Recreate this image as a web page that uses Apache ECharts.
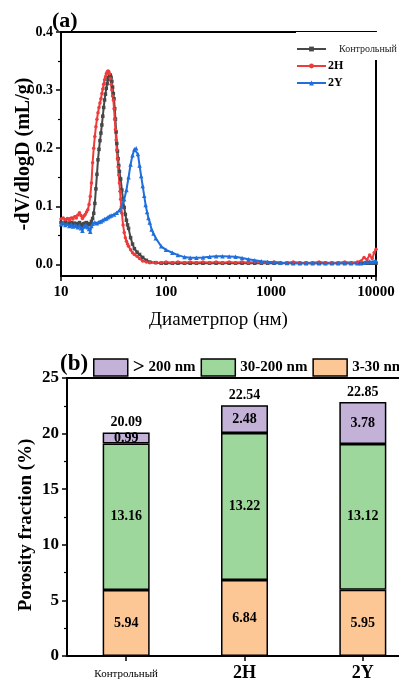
<!DOCTYPE html>
<html><head><meta charset="utf-8">
<script src="https://cdn.jsdelivr.net/npm/echarts@6/dist/echarts.min.js"></script>
<style>html,body{margin:0;padding:0;background:#fff}#c{width:399px;height:682px}</style>
</head><body><div id="c"></div>
<script>
const FONT = '"Liberation Serif","Times New Roman",serif';

// ---------- Panel (a): pore size distribution ----------
const dTail = [80,90,100,115,130,150,170,195,225,260,300,345,400,460,530,610,700,810,930,1070,1230,1420,1630,1880,2160,2490,2870,3300,3800,4370,5030,5790,6660,7200,7700,8200,8700,9200,9600,10000];

const dCtrl = [10,10.5,11,11.5,12,12.5,13,13.5,14,14.5,15,15.5,16,16.5,17,17.5,18,18.5,19,19.5,20,20.5,21,21.5,22,22.5,23,23.5,24,24.5,25,25.5,26,26.5,27,27.5,28,28.5,29,29.5,30,30.5,31,31.5,32,32.5,33,33.5,34,34.5,35,35.5,36,37,38,39,40,41,42,43,44,46,48,50,53,56,60,65,70].concat(dTail);
const vCtrl = [0.072,0.070,0.073,0.071,0.069,0.072,0.070,0.071,0.068,0.070,0.072,0.069,0.066,0.070,0.071,0.072,0.070,0.068,0.070,0.074,0.079,0.088,0.105,0.130,0.155,0.180,0.198,0.213,0.226,0.240,0.255,0.270,0.283,0.293,0.303,0.311,0.318,0.322,0.326,0.326,0.322,0.315,0.305,0.294,0.285,0.268,0.250,0.228,0.208,0.195,0.182,0.170,0.160,0.147,0.128,0.112,0.098,0.086,0.076,0.068,0.062,0.046,0.035,0.027,0.021,0.017,0.012,0.007,0.004,
  0.003,0.002,0.002,0.002,0.002,0.002,0.002,0.002,0.002,0.002,0.002,0.002,0.002,0.002,0.002,0.002,0.002,0.002,0.002,0.002,0.002,0.002,0.002,0.002,0.002,0.002,0.002,0.002,0.002,0.002,0.002,0.002,0.002,0.002,0.002,0.002,0.002,0.002,0.002,0.002];

const dH = [10,10.5,11,11.5,12,12.5,13,13.5,14,14.5,15,15.5,16,16.5,17,17.5,18,18.5,19,19.5,20,20.5,21,21.5,22,22.5,23,23.5,24,24.5,25,25.5,26,26.5,27,27.5,28,28.5,29,29.5,30,30.5,31,31.5,32,32.5,33,33.5,34,34.5,35,35.5,36,36.5,37,37.5,38,39,40,41,42,43,44,46,48,50,53,56,60,65,70].concat(dTail);
const vH = [0.078,0.080,0.077,0.079,0.076,0.080,0.078,0.082,0.080,0.085,0.089,0.084,0.079,0.083,0.086,0.090,0.094,0.103,0.117,0.140,0.175,0.200,0.220,0.237,0.250,0.261,0.270,0.278,0.285,0.294,0.302,0.310,0.318,0.323,0.328,0.331,0.333,0.332,0.328,0.320,0.310,0.300,0.290,0.283,0.268,0.250,0.232,0.214,0.197,0.182,0.168,0.154,0.140,0.126,0.112,0.099,0.088,0.068,0.055,0.046,0.040,0.035,0.031,0.025,0.020,0.017,0.014,0.010,0.006,0.004,0.003,
  0.003,0.003,0.004,0.003,0.004,0.003,0.004,0.003,0.004,0.003,0.004,0.003,0.004,0.003,0.004,0.003,0.004,0.003,0.003,0.004,0.003,0.003,0.004,0.003,0.003,0.003,0.004,0.003,0.003,0.003,0.004,0.003,0.004,0.006,0.012,0.008,0.016,0.010,0.020,0.026];

const dY = [10,10.5,11,11.5,12,12.5,13,13.5,14,14.5,15,15.5,16,16.5,17,17.5,18,18.5,19,19.5,20,21,22,23,24,25,26,27,28,29,30,32,34,36,38,40,42,44,46,48,50,52,54,56,58,60,62,64,66,68,70,73,76].concat(dTail);
const vY = [0.069,0.072,0.068,0.070,0.066,0.069,0.065,0.068,0.066,0.064,0.067,0.062,0.058,0.065,0.068,0.066,0.064,0.061,0.056,0.066,0.070,0.072,0.071,0.073,0.074,0.076,0.078,0.079,0.081,0.083,0.084,0.086,0.089,0.093,0.100,0.112,0.128,0.150,0.172,0.188,0.198,0.200,0.190,0.170,0.152,0.135,0.118,0.102,0.090,0.080,0.072,0.060,0.053,
  0.045,0.031,0.025,0.020,0.016,0.0125,0.0115,0.0115,0.012,0.013,0.014,0.014,0.0135,0.013,0.011,0.009,0.007,0.0055,0.0045,0.0035,0.003,0.0025,0.002,0.002,0.002,0.002,0.002,0.002,0.002,0.002,0.002,0.002,0.002,0.002,0.003,0.004,0.005,0.004,0.005,0.006];

const xTicksA = [10,100,1000,10000];
const xMinorA = [20,30,40,50,60,70,80,90,200,300,400,500,600,700,800,900,2000,3000,4000,5000,6000,7000,8000,9000];
const yTicksA = [0,0.1,0.2,0.3,0.4];
const yMinorA = [0.05,0.15,0.25,0.35];

// ---------- Panel (b): porosity fractions ----------
const categories = ['Контрольный','2H','2Y'];
const small = [5.94,6.84,5.95];    // 3-30 nm
const mid = [13.16,13.22,13.12];   // 30-200 nm
const large = [0.99,2.48,3.78];    // > 200 nm
const totals = [20.09,22.54,22.85];
const seriesNamesB = ['> 200 nm','30-200 nm','3-30 nm'];

function pairs(d, v){ return d.map((x,i)=>[x, v[i]]); }

const blk = '#000';
const lineCommon = { type:'line', xAxisIndex:0, yAxisIndex:0, showSymbol:true, clip:true };
const labB = { show:true, position:'inside', fontFamily:FONT, fontWeight:'bold', fontSize:14, color:'#000', formatter:p=>p.value.toFixed(2) };
const barCommon = { type:'bar', xAxisIndex:3, yAxisIndex:3, stack:'tot', barWidth:47 };

const option = {
  animation:false,
  backgroundColor:'#fff',
  title:[
    {text:'(a)', left:52, top:10, padding:0, textStyle:{fontFamily:FONT, fontWeight:'bold', fontSize:22, color:'#000'}},
    {text:'(b)', left:60, top:353, padding:0, textStyle:{fontFamily:FONT, fontWeight:'bold', fontSize:23, color:'#000'}}
  ],
  legend:[
    {data:['Контрольный'], left:296, top:32, orient:'vertical', padding:[12,4,6,0], backgroundColor:'#fff', itemWidth:29, itemHeight:6, selectedMode:false,
     textStyle:{fontFamily:FONT, fontSize:10, color:'#222', padding:[0,0,0,8]}},
    {data:['2H'], left:296, top:60, orient:'vertical', padding:0, itemWidth:29, itemHeight:6, selectedMode:false,
     textStyle:{fontFamily:FONT, fontSize:12, fontWeight:'bold', color:'#000', padding:[0,0,0,-3]}},
    {data:['2Y'], left:296, top:77, orient:'vertical', padding:0, itemWidth:29, itemHeight:6, selectedMode:false,
     textStyle:{fontFamily:FONT, fontSize:12, fontWeight:'bold', color:'#000', padding:[0,0,0,-3]}},
    {data:seriesNamesB, left:93, top:357, width:600, padding:0, itemWidth:34, itemHeight:17, itemGap:5, selectedMode:false, icon:'rect',
     itemStyle:{borderColor:'#000', borderWidth:1.5},
     formatter:n=> n.charAt(0)==='>' ? '{g|>}' + n.slice(1) : n,
     textStyle:{fontFamily:FONT, fontSize:15, fontWeight:'bold', color:'#000',
       rich:{g:{fontFamily:FONT, fontSize:21, fontWeight:'bold', color:'#000'}}}}
  ],
  grid:[
    {left:61, right:23, top:32, bottom:406, outerBoundsMode:'none', containLabel:false},
    {left:67, right:-23, top:378, bottom:26, outerBoundsMode:'none', containLabel:false}
  ],
  xAxis:[
    {type:'log', gridIndex:0, logBase:10, min:10, max:10000, position:'bottom',
     axisLine:{onZero:false, lineStyle:{color:blk, width:2}},
     axisTick:{show:true, length:5, lineStyle:{color:blk, width:1.5}},
     axisLabel:{fontFamily:FONT, fontWeight:'bold', fontSize:15, color:'#000', margin:9,
       formatter:v=>{ const k = xTicksA.indexOf(Math.round(v)); return k>=0 ? String(xTicksA[k]) : ''; }},
     splitLine:{show:false},
     name:'Диаметрпор (нм)', nameLocation:'middle', nameGap:35, nameMoveOverlap:false,
     nameTextStyle:{fontFamily:FONT, fontSize:19, color:'#000'}},
    {type:'value', gridIndex:0, min:1, max:4, position:'bottom',
     axisLine:{show:false, onZero:false}, axisLabel:{show:false}, splitLine:{show:false},
     axisTick:{show:true, length:3, customValues:xMinorA.map(v=>Math.log10(v)), lineStyle:{color:blk, width:1.2}}},
    {type:'value', gridIndex:0, min:0, max:1, position:'top',
     axisLine:{show:true, onZero:false, lineStyle:{color:blk, width:2}}, axisTick:{show:false}, axisLabel:{show:false}, splitLine:{show:false}},
    {type:'category', gridIndex:1, data:categories, position:'bottom',
     axisLine:{onZero:false, lineStyle:{color:blk, width:2}},
     axisTick:{show:true, alignWithLabel:true, length:5, lineStyle:{color:blk, width:1.5}},
     axisLabel:{margin:8, interval:0,
       formatter:(v,i)=> i===0 ? '{s|'+v+'}' : '{b|'+v+'}',
       rich:{s:{fontFamily:FONT, fontSize:11, color:'#000', padding:[5,0,0,0]},
             b:{fontFamily:FONT, fontSize:18, fontWeight:'bold', color:'#000'}}}},
    {type:'value', gridIndex:1, min:0, max:1, position:'top',
     axisLine:{show:true, onZero:false, lineStyle:{color:blk, width:2}}, axisTick:{show:false}, axisLabel:{show:false}, splitLine:{show:false}}
  ],
  yAxis:[
    {type:'value', gridIndex:0, min:-0.02, max:0.4, position:'left',
     axisLine:{show:true, onZero:false, lineStyle:{color:blk, width:2}},
     axisTick:{show:true, length:5, customValues:yTicksA, lineStyle:{color:blk, width:1.5}},
     axisLabel:{customValues:yTicksA, formatter:v=>v.toFixed(1), fontFamily:FONT, fontWeight:'bold', fontSize:14, color:'#000', margin:8},
     splitLine:{show:false},
     name:'-dV/dlogD (mL/g)', nameLocation:'middle', nameGap:27, nameRotate:90, nameMoveOverlap:false,
     nameTextStyle:{fontFamily:FONT, fontWeight:'bold', fontSize:20, color:'#000'}},
    {type:'value', gridIndex:0, min:-0.02, max:0.4, position:'right',
     axisLine:{show:true, onZero:false, lineStyle:{color:blk, width:2}}, axisTick:{show:false}, axisLabel:{show:false}, splitLine:{show:false}},
    {type:'value', gridIndex:0, min:-0.02, max:0.4, position:'left',
     axisLine:{show:false, onZero:false}, axisLabel:{show:false}, splitLine:{show:false},
     axisTick:{show:true, length:3, customValues:yMinorA, lineStyle:{color:blk, width:1.2}}},
    {type:'value', gridIndex:1, min:0, max:25, interval:5, position:'left',
     axisLine:{show:true, onZero:false, lineStyle:{color:blk, width:2}},
     axisTick:{show:true, length:5, lineStyle:{color:blk, width:1.5}},
     minorTick:{show:true, splitNumber:2, length:3, lineStyle:{color:blk, width:1.2}},
     axisLabel:{fontFamily:FONT, fontWeight:'bold', fontSize:17, color:'#000', margin:8},
     splitLine:{show:false}, minorSplitLine:{show:false},
     name:'Porosity fraction (%)', nameLocation:'middle', nameGap:31, nameRotate:90, nameMoveOverlap:false,
     nameTextStyle:{fontFamily:FONT, fontWeight:'bold', fontSize:19, color:'#000', padding:[0,16,0,0]}}
  ],
  series:[
    Object.assign({}, lineCommon, {name:'Контрольный', data:pairs(dCtrl,vCtrl), symbol:'rect', symbolSize:3.5,
      lineStyle:{width:2, color:'#474747'}, itemStyle:{color:'#474747'}}),
    Object.assign({}, lineCommon, {name:'2H', data:pairs(dH,vH), symbol:'circle', symbolSize:3.5,
      lineStyle:{width:2, color:'#ee3b3b'}, itemStyle:{color:'#ee3b3b'}}),
    Object.assign({}, lineCommon, {name:'2Y', data:pairs(dY,vY), symbol:'triangle', symbolSize:4.5,
      lineStyle:{width:2, color:'#1f6fdc'}, itemStyle:{color:'#1f6fdc'}}),
    Object.assign({}, barCommon, {name:'3-30 nm', data:small, itemStyle:{color:'#fdc795', borderColor:'#000', borderWidth:1.5}, label:labB}),
    Object.assign({}, barCommon, {name:'30-200 nm', data:mid, itemStyle:{color:'#9ed79b', borderColor:'#000', borderWidth:1.5}, label:labB}),
    Object.assign({}, barCommon, {name:'> 200 nm', data:large, itemStyle:{color:'#c3b1d8', borderColor:'#000', borderWidth:1.5}, label:labB}),
    Object.assign({}, barCommon, {name:'total', data:totals.map(()=>0), itemStyle:{color:'rgba(0,0,0,0)', borderWidth:0},
      label:{show:true, position:'top', distance:3, fontFamily:FONT, fontWeight:'bold', fontSize:14, color:'#000',
        formatter:p=>totals[p.dataIndex].toFixed(2)}})
  ]
};

const chart = echarts.init(document.getElementById('c'), null, {renderer:'canvas'});
chart.setOption(option);
</script>
</body></html>
